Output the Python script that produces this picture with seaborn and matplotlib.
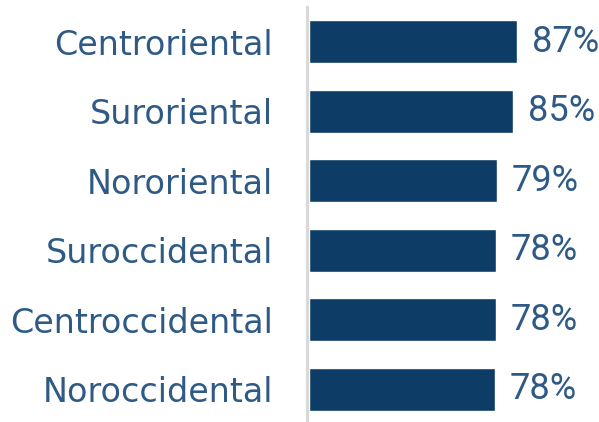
import matplotlib
matplotlib.use("Agg")
import matplotlib.pyplot as plt
import seaborn as sns
import pandas as pd

regions = ["Centroriental", "Suroriental", "Nororiental", "Suroccidental", "Centroccidental", "Noroccidental"]
values = [87.0, 85.3, 78.6, 78.4, 78.4, 77.8]
value_labels = ["87%", "85%", "79%", "78%", "78%", "78%"]

bar_color = "#0d3d66"
text_color = "#2f5a85"

sns.set_theme(style="white")
plt.rcParams['font.family'] = ['DejaVu Sans']

df = pd.DataFrame({"region": regions, "value": values})

W, H = 599, 422
fig = plt.figure(figsize=(W / 100, H / 100), dpi=100)
left_px = 306.5
top_px = 7
bottom_px = 424
ax = fig.add_axes([left_px / W, (H - bottom_px) / H, (W - left_px) / W, (bottom_px - top_px) / H])

sns.barplot(data=df, x="value", y="region", color=bar_color, saturation=1, width=0.62, ax=ax)

px_per_unit = 208 / 87
ax.set_xlim(-2.5 / px_per_unit, (W - left_px - 2.5) / px_per_unit)
ax.set_ylim(5.5, -0.5)

texts = ax.bar_label(ax.containers[0], labels=value_labels, padding=10.5, fontsize=26,
                     color=text_color, family=['Roboto', 'DejaVu Sans'])

ax.set_xlabel("")
ax.set_ylabel("")
ax.set_xticks([])
ax.tick_params(axis="y", length=0, pad=24, labelsize=24, labelcolor=text_color)

for s in ["top", "right", "bottom"]:
    ax.spines[s].set_visible(False)
ax.spines["left"].set_color("#d9d9d9")
ax.spines["left"].set_linewidth(2.2)

fig.savefig("out.png", dpi=100)
